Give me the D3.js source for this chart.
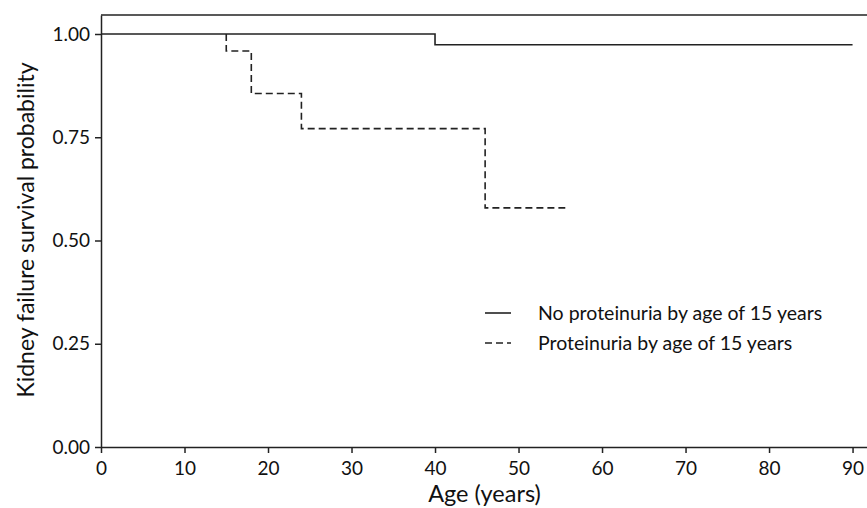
<!DOCTYPE html>
<html><head><meta charset="utf-8">
<script src="https://cdn.jsdelivr.net/npm/d3@7"></script>
<style>body{margin:0;background:#fff}svg{display:block}text{font-family:Lato,"Open Sans",sans-serif;fill:#111}</style>
</head><body><svg id="c" width="867" height="508"></svg>
<script>
// Kaplan-Meier step data
const noProtTimes = [0, 40, 90];
const noProtSurv  = [1.0, 0.974, 0.974];
const protTimes   = [15, 18, 24, 46, 55.6];
const protSurv    = [0.959, 0.856, 0.771, 0.579, 0.579];
const xTicks = [0,10,20,30,40,50,60,70,80,90];
const yTicks = [0,0.25,0.5,0.75,1.0];
const legendLabels = ["No proteinuria by age of 15 years","Proteinuria by age of 15 years"];

const svg = d3.select("#c");
const mL = 101, mB = 447, mR = 868, mT = 15;
const x = d3.scaleLinear().domain([0, 91.85]).range([mL, mR]);
const y = d3.scaleLinear().domain([0, 1.046]).range([mB, mT]);

svg.append("line").attr("x1", mL).attr("x2", mR).attr("y1", mT).attr("y2", mT)
  .attr("stroke","#222").attr("stroke-width",1.5);

const xa = svg.append("g").attr("transform",`translate(0,${mB})`)
  .call(d3.axisBottom(x).tickValues(xTicks).tickSize(6).tickSizeOuter(0).tickPadding(8.5).tickFormat(d3.format("d")));
const ya = svg.append("g").attr("transform",`translate(${mL},0)`)
  .call(d3.axisLeft(y).tickValues(yTicks).tickSize(6).tickSizeOuter(0).tickPadding(5).tickFormat(d3.format(".2f")));
[xa,ya].forEach(a=>{
  a.select(".domain").attr("stroke","#222").attr("stroke-width",1.5);
  a.selectAll(".tick line").attr("stroke","#222").attr("stroke-width",1.5);
  a.selectAll("text").style("font-size","19px").style("font-family","Lato").attr("fill","#111");
});

const noProt = noProtTimes.map((t,i)=>[t,noProtSurv[i]]);
const line = d3.line().curve(d3.curveStepAfter).x(d=>x(d[0])).y(d=>y(d[1]));
svg.append("path").datum(noProt).attr("d",line).attr("fill","none").attr("stroke","#222").attr("stroke-width",1.6);

const dPts = [[protTimes[0],1.0]];
protTimes.forEach((t,i)=>{ if(i>0) dPts.push([t,protSurv[i-1]]); dPts.push([t,protSurv[i]]); });
svg.append("path").datum(dPts).attr("d",d3.line().x(d=>x(d[0])).y(d=>y(d[1])))
  .attr("fill","none").attr("stroke","#222").attr("stroke-width",1.6).attr("stroke-dasharray","7,4");

const lg = svg.append("g");
[0,1].forEach(i=>{
  const yy = 313 + i*30;
  lg.append("line").attr("x1",485).attr("x2",511).attr("y1",yy).attr("y2",yy)
    .attr("stroke","#222").attr("stroke-width",1.6).attr("stroke-dasharray", i? "7,4":null);
  lg.append("text").attr("x",538).attr("y",yy).attr("dy","0.35em").style("font-size","19.5px").text(legendLabels[i]);
});

svg.append("text").attr("x",(mL+868)/2 - 0).attr("y",502).attr("text-anchor","middle").style("font-size","23.5px").text("Age (years)");
svg.append("text").attr("transform",`translate(34,230) rotate(-90)`).attr("text-anchor","middle").style("font-size","23px").text("Kidney failure survival probability");
</script></body></html>
